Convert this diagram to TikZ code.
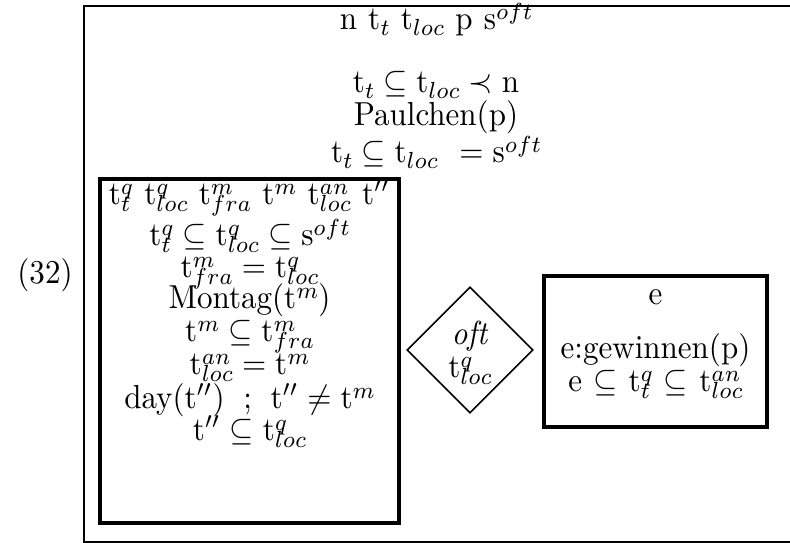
\documentclass[tikz,border=0pt]{standalone}
\usetikzlibrary{shapes.geometric}
\newcommand\sx[1]{\scalebox{0.97}[1.04]{#1}}
\newsavebox\supbx
\newsavebox\subbx
\newlength\scrw
\newcommand\scrfont{\fontsize{6.6}{7.5}\selectfont}
% stacked super- and subscript
\newcommand\Sps[2]{\setbox\supbx\hbox{\scrfont$#1$}\setbox\subbx\hbox{\scrfont$#2$}%
  \ifdim\wd\supbx>\wd\subbx\scrw=\wd\supbx\else\scrw=\wd\subbx\fi%
  \hbox to\scrw{\rlap{\raise3.1pt\box\supbx}\lower2.1pt\box\subbx\hfil}}
\newcommand\Sp[1]{\raise3.1pt\hbox{\scrfont$#1$}}
\newcommand\Sb[1]{\lower1.8pt\hbox{\scrfont$#1$}}
\newcommand\gp{\hspace{3.6pt}}
\newcommand\rl[1]{\hspace{2.9pt}$#1$\hspace{2.9pt}}
\begin{document}
\begin{tikzpicture}[x=0.3125pt,y=-0.3125pt,
  txt/.style={anchor=base,inner sep=0pt,font=\fontsize{10}{12}\selectfont},
  boxline/.style={line width=0.95pt},
  outerline/.style={line width=0.75pt},
  diam/.style={diamond,draw,line width=0.5pt,inner sep=0pt,aspect=1,
    minimum width=126*0.3125pt,minimum height=126*0.3125pt}]
\clip (0,0) rectangle (790,543);
\fill[white] (0,0) rectangle (790,543);
% outer box (right edge lies outside the picture)
\draw[outerline] (84,6) rectangle (797,542);
\node[txt] (num) at (45,284) {\sx{(32)}};
% top universe and conditions
\node[txt] (u1) at (436,30) {\sx{n\gp t\Sb{t}\gp t\Sb{loc}\gp p\gp s\Sp{oft}}};
\node[txt] (c1) at (436,93) {\sx{t\Sb{t}\rl{\subseteq}t\Sb{loc}\rl{\prec}n}};
\node[txt] (c2) at (436,126) {\sx{Paulchen(p)}};
\node[txt] (c3) at (436,163) {\sx{t\Sb{t}\rl{\subseteq}t\Sb{loc}\hspace{4pt}\rl{=}s\Sp{oft}}};
% left box
\draw[boxline] (100,179) rectangle (399,523);
\node[txt] (l1) at (249.5,205) {\sx{t\Sps{q}{t}\gp t\Sps{q}{loc}\gp t\Sps{m}{fra}\gp t\Sp{m}\gp t\Sps{an}{loc}\gp t$''$}};
\node[txt] (l2) at (249.5,246) {\sx{t\Sps{q}{t}\rl{\subseteq}t\Sps{q}{loc}\rl{\subseteq}s\Sp{oft}}};
\node[txt] (l3) at (249.5,278) {\sx{t\Sps{m}{fra}\rl{=}t\Sps{q}{loc}}};
\node[txt] (l4) at (249.5,309) {\sx{Montag(t\Sp{m})}};
\node[txt] (l5) at (249.5,342) {\sx{t\Sp{m}\rl{\subseteq}t\Sps{m}{fra}}};
\node[txt] (l6) at (249.5,375) {\sx{t\Sps{an}{loc}\rl{=}t\Sp{m}}};
\node[txt] (l7) at (249.5,409) {\sx{day(t$''$)\hspace{6pt};\hspace{6pt}t$''$\rl{\neq}t\Sp{m}}};
\node[txt] (l8) at (249.5,441) {\sx{t$''$\rl{\subseteq}t\Sps{q}{loc}}};
% diamond
\node[diam] (dia) at (470,350) {};
\node[txt] (d1) at (470,345) {\sx{\textit{oft}}};
\node[txt] (d2) at (470,378) {\sx{t\Sps{q}{loc}}};
% right box
\draw[boxline] (544,276) rectangle (767,427);
\node[txt] (r1) at (655.5,305) {\sx{e}};
\node[txt] (r2) at (655.5,359) {\sx{e:gewinnen(p)}};
\node[txt] (r3) at (655.5,392) {\sx{e\gp$\subseteq$\gp t\Sps{q}{t}\gp$\subseteq$\gp t\Sps{an}{loc}}};
\end{tikzpicture}
\end{document}
